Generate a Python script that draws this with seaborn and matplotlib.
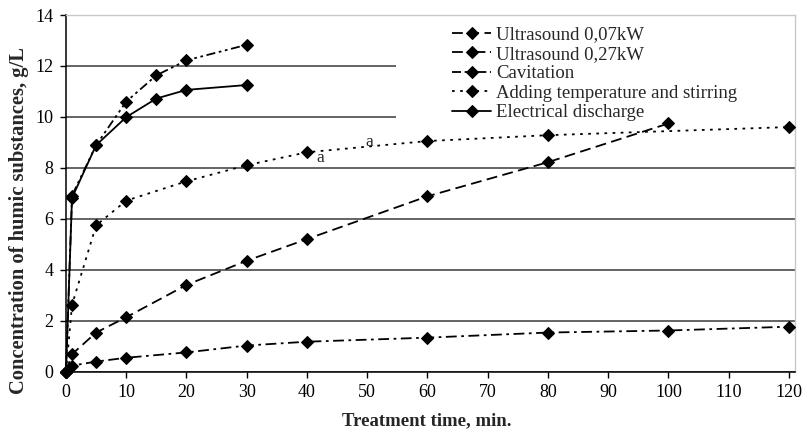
import matplotlib
matplotlib.use("Agg")
import matplotlib.pyplot as plt
from matplotlib.patches import Rectangle
import seaborn as sns
import pandas as pd

# ---- data ----
us007_x = [0, 1, 5, 10, 20, 30, 40, 60, 80, 100]
us007_y = [0.0, 0.68, 1.53, 2.13, 3.4, 4.35, 5.2, 6.88, 8.22, 9.74]

us027_x = [0, 1, 5, 10, 20, 30, 40, 60, 80, 100, 120]
us027_y = [0.0, 0.23, 0.39, 0.54, 0.75, 1.02, 1.17, 1.33, 1.53, 1.61, 1.76]

cav_x = [0, 1, 5, 10, 15, 20, 30]
cav_y = [0.0, 6.91, 8.89, 10.6, 11.63, 12.22, 12.83]

temp_x = [0, 1, 5, 10, 20, 30, 40, 60, 80, 120]
temp_y = [0.0, 2.62, 5.74, 6.71, 7.47, 8.1, 8.61, 9.05, 9.28, 9.6]

elec_x = [0, 1, 5, 10, 15, 20, 30]
elec_y = [0.0, 6.82, 8.89, 9.99, 10.72, 11.06, 11.25]

labels = ["Ultrasound 0,07kW", "Ultrasound 0,27kW", "Cavitation",
          "Adding temperature and stirring", "Electrical discharge"]
x_ticks = list(range(0, 121, 10))
y_ticks = list(range(0, 15, 2))

sns.set_theme(style="white")
plt.rcParams['font.family'] = ['Liberation Serif', 'DejaVu Serif']

fig = plt.figure(figsize=(8.04, 4.29), dpi=100)
ax = fig.add_axes([66 / 804, 1 - 371.5 / 429, (795 - 66) / 804, (371.5 - 15) / 429])

series = [
    (us007_x, us007_y, (0, (6, 3))),
    (us027_x, us027_y, (0, (6, 2.5, 1.5, 2.5))),
    (cav_x, cav_y, (0, (5, 2, 1.5, 2, 1.5, 2))),
    (temp_x, temp_y, (0, (1.5, 3))),
    (elec_x, elec_y, "-"),
]

handles = []
for (xs, ys, ls), lab in zip(series, labels):
    df = pd.DataFrame({"t": xs, "c": ys})
    sns.lineplot(data=df, x="t", y="c", ax=ax, color="black", marker="D",
                 markersize=6.5, markeredgecolor="black", linewidth=1.3,
                 linestyle=ls, estimator=None, sort=False, label=lab,
                 clip_on=False, zorder=3)
    handles.append(ax.lines[-1])

ax.text(41.6, 8.4, "a", fontsize=12.5, va="center", ha="left")
ax.text(50.4, 9.0, "a", fontsize=12.5, va="center", ha="center")

ax.set_xlim(0, 121)
ax.set_ylim(0, 14)
ax.set_xticks(x_ticks)
ax.set_yticks(y_ticks)
ax.set_xticklabels([str(v) for v in x_ticks])
ax.set_yticklabels([str(v) for v in y_ticks])
ax.tick_params(axis="both", labelsize=13, colors="black", length=4, width=1,
               direction="out", bottom=True, left=True, pad=5)

ax.set_axisbelow(True)
ax.yaxis.grid(True, color="#3a3a3a", linewidth=1.1)
ax.xaxis.grid(False)

# white area behind legend hiding gridlines
ax.add_patch(Rectangle((0.4527, 0.655), 0.55, 0.33, transform=ax.transAxes,
                       facecolor="white", edgecolor="none", zorder=1))

for s in ["left", "bottom"]:
    ax.spines[s].set_color("black")
    ax.spines[s].set_linewidth(1.1)
for s in ["top", "right"]:
    ax.spines[s].set_color("#c8c8c8")
    ax.spines[s].set_linewidth(1.0)

ax.set_xlabel("Treatment time, min.", fontsize=13.5, fontweight="bold")
ax.set_ylabel("Concentration of humic substances, g/L", fontsize=14.8,
              fontweight="bold")
ax.xaxis.set_label_coords((427 - 66) / 729, (371.5 - 412) / 356.5)
ax.yaxis.set_label_coords((29 - 66) / 729, (371.5 - 221) / 356.5)

leg = ax.legend(handles=handles, labels=labels, loc="upper left",
                bbox_to_anchor=((439 - 66) / 729, (371.5 - 13) / 356.5),
                frameon=False, fontsize=13.5, handlelength=2.1,
                handletextpad=0.25, labelspacing=0.13, borderpad=0.2,
                numpoints=1)

fig.savefig("out.png", dpi=100, facecolor="white")
